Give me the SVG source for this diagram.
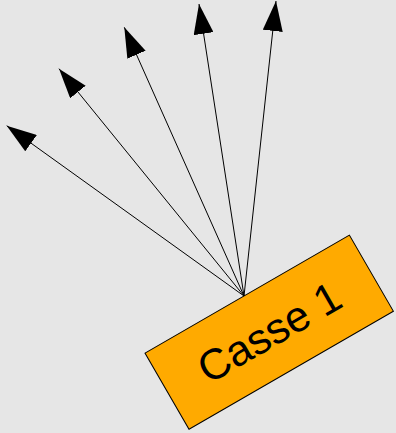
<svg xmlns="http://www.w3.org/2000/svg" width="396" height="433" viewBox="0 0 396 433">
<style>
.bg{fill:#e6e6e6}
.box{fill:#ffaa00;stroke:#000;stroke-width:1}
.lbl{font-family:"Liberation Sans",Arial,sans-serif;font-size:43px;fill:#000;text-anchor:middle}
.conn line{stroke:#000;stroke-width:1;marker-end:url(#ah)}
</style>
<defs>
<marker id="ah" viewBox="0 0 30 20" refX="30" refY="10" markerWidth="30" markerHeight="20" markerUnits="userSpaceOnUse" orient="auto">
<path d="M0,0 L30,10 L0,20 Z" fill="#000"/>
</marker>
</defs>
<rect class="bg" x="0" y="0" width="396" height="433"/>
<g id="casse1" transform="translate(269.2,332.2) rotate(-30)">
<rect class="box" x="-118" y="-44" width="236" height="88"/>
<text class="lbl" x="0" y="15">Casse 1</text>
</g>
<g id="connectors" class="conn">
<line x1="244" y1="296" x2="6.7" y2="125.7"/>
<line x1="244" y1="296" x2="59" y2="68.7"/>
<line x1="244" y1="296" x2="124.3" y2="27.3"/>
<line x1="244" y1="296" x2="199" y2="4"/>
<line x1="244" y1="296" x2="276" y2="1"/>
</g>
</svg>
